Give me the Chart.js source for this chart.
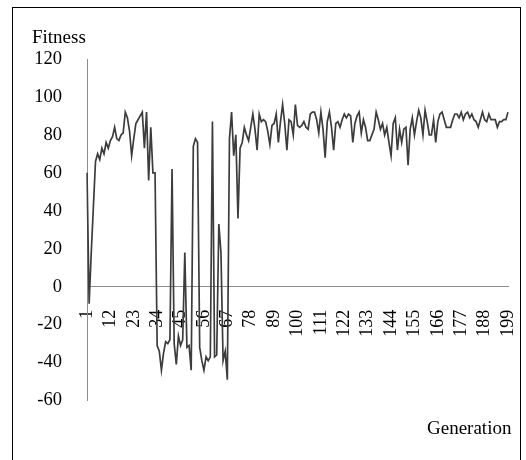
<!DOCTYPE html>
<html>
<head>
<meta charset="utf-8">
<script src="https://cdn.jsdelivr.net/npm/chart.js@4.4.1/dist/chart.umd.min.js"></script>
<style>
  html, body { margin: 0; padding: 0; background: #fff; }
  #wrap { position: relative; width: 526px; height: 460px; overflow: hidden; background: #fff; }
  #frame { position: absolute; left: 12px; top: 7px; width: 509px; height: 470px;
           border: 1px solid #000; box-sizing: border-box; pointer-events: none; }
  canvas { position: absolute; left: 0; top: 0; }
</style>
</head>
<body>
<div id="wrap">
  <canvas id="chart" width="526" height="460"></canvas>
  <div id="frame"></div>
</div>
<script>
// Generation numbers along the x axis
const generations = Array.from({ length: 199 }, (_, i) => i + 1);

// Generations that carry a visible tick label
const tickLabels = [1, 12, 23, 34, 45, 56, 67, 78, 89, 100, 111, 122, 133, 144, 155, 166, 177, 188, 199];

// Best fitness per generation
const fitness = [
  60, -9, 18, 42, 66, 70, 67, 73, 70, 76,
  73, 77, 79, 84, 78, 77, 80, 81, 92, 89,
  82, 69, 78, 86, 88, 90, 92, 73, 92, 56,
  84, 60, 60, -31, -34, -44, -35, -29, -30, -28,
  62, -30, -41, -26, -31, -28, 18, -32, -31, -44,
  74, 78, 76, -32, -39, -44, -37, -39, -37, 87,
  -37, -36, 33, 18, -39, -34, -49, 78, 92, 69,
  80, 36, 73, 76, 84, 80, 77, 84, 91, 83,
  72, 91, 87, 88, 87, 82, 75, 85, 86, 91,
  76, 87, 96, 86, 72, 88, 87, 80, 96, 85,
  84, 85, 87, 84, 83, 91, 92, 92, 88, 81,
  92, 83, 68, 87, 92, 84, 72, 86, 87, 84,
  88, 91, 89, 91, 90, 76, 86, 90, 92, 81,
  88, 84, 77, 77, 80, 83, 92, 88, 83, 86,
  80, 84, 76, 69, 86, 89, 72, 83, 76, 83,
  84, 64, 83, 89, 80, 87, 93, 89, 80, 93,
  87, 80, 80, 88, 76, 87, 91, 92, 88, 84,
  84, 84, 88, 91, 91, 89, 92, 88, 91, 92,
  89, 91, 88, 87, 84, 88, 92, 88, 87, 91,
  88, 88, 88, 84, 87, 87, 88, 88, 92
];

const serif = "'Liberation Serif', 'Times New Roman', serif";
const axisGray = '#8c8c8c';

// Free-standing axis captions drawn on the canvas
const captions = {
  id: 'captions',
  afterDraw(chart) {
    const ctx = chart.ctx;
    ctx.save();
    ctx.fillStyle = '#000';
    ctx.font = '19px ' + serif;
    ctx.textBaseline = 'alphabetic';
    ctx.textAlign = 'left';
    ctx.fillText('Fitness', 32, 43);
    ctx.fillText('Generation', 427, 434);
    ctx.restore();
  }
};

new Chart(document.getElementById('chart'), {
  type: 'line',
  data: {
    labels: generations.map(String),
    datasets: [{
      data: fitness,
      borderColor: '#3c3c3c',
      borderWidth: 1.7,
      pointRadius: 0,
      tension: 0,
      fill: false
    }]
  },
  options: {
    responsive: false,
    animation: false,
    layout: { padding: { left: 0, top: 59, right: 18, bottom: 59.5 } },
    plugins: { legend: { display: false }, tooltip: { enabled: false } },
    scales: {
      x: {
        type: 'category',
        position: { y: 0 },
        grid: { display: false, drawTicks: false },
        border: { display: true, color: axisGray, width: 1 },
        ticks: {
          autoSkip: false,
          minRotation: 90,
          maxRotation: 90,
          padding: 23,
          color: '#000',
          font: { family: serif, size: 18 },
          callback(value, index) {
            const g = generations[index];
            return tickLabels.includes(g) ? String(g) : '';
          }
        },
        afterFit(scale) { scale.paddingLeft = 0; scale.paddingRight = 0; }
      },
      y: {
        min: -60,
        max: 120,
        grid: { display: false, drawTicks: false },
        border: { display: true, color: axisGray, width: 1 },
        ticks: {
          stepSize: 20,
          padding: 25,
          color: '#000',
          font: { family: serif, size: 18.5 }
        },
        afterFit(scale) { scale.width = 87; }
      }
    }
  },
  plugins: [captions]
});
</script>
</body>
</html>
